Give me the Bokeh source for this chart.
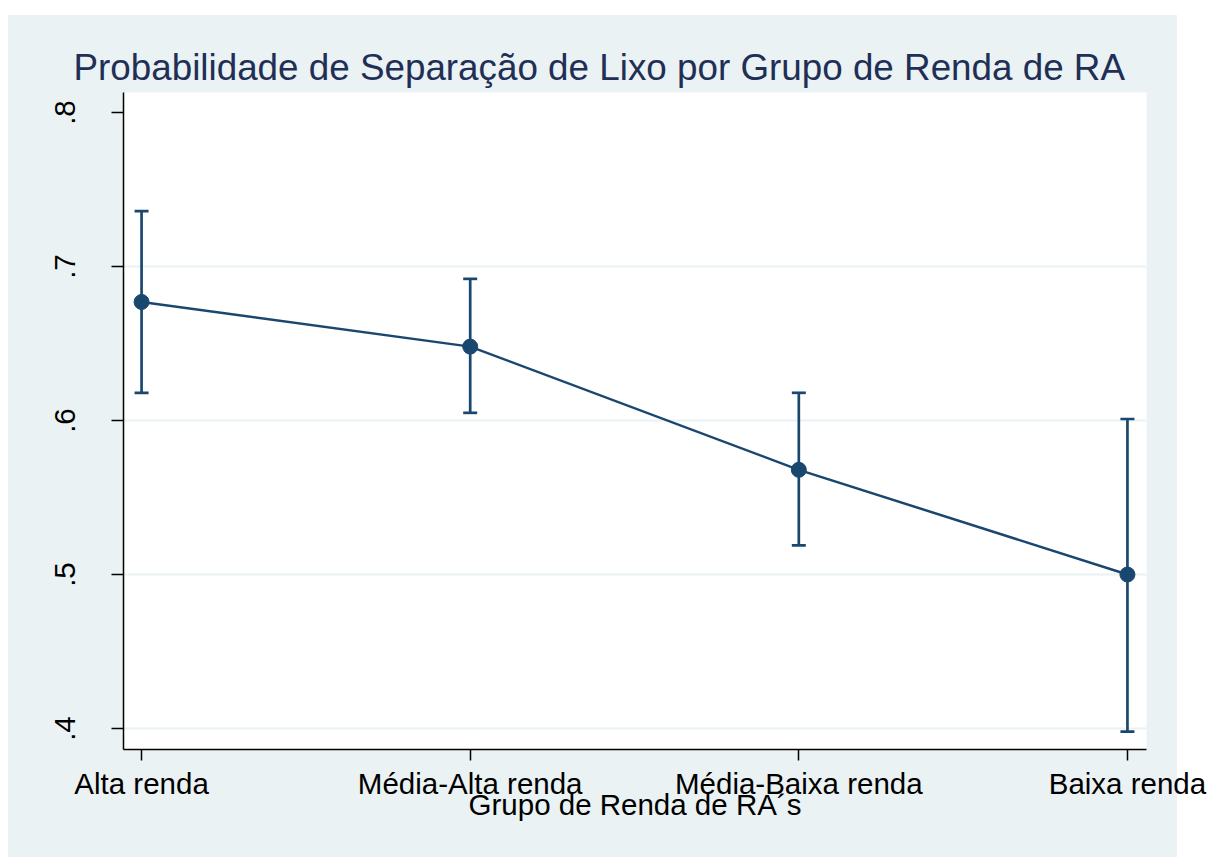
from bokeh.plotting import figure
from bokeh.models import Range1d, FixedTicker, Whisker, TeeHead, ColumnDataSource
from bokeh.embed import file_html
from bokeh.resources import INLINE

categories = ["Alta renda", "Média-Alta renda", "Média-Baixa renda", "Baixa renda"]
positions = [1, 2, 3, 4]
prob = [0.677, 0.648, 0.568, 0.500]
ci_low = [0.618, 0.605, 0.519, 0.398]
ci_high = [0.736, 0.692, 0.618, 0.601]
y_ticks = [0.4, 0.5, 0.6, 0.7, 0.8]
y_tick_labels = [".4", ".5", ".6", ".7", ".8"]
title_text = "Probabilidade de Separação de Lixo por Grupo de Renda de RA"
x_title = "Grupo de Renda de RA´s"

NAVY = "#1A476F"
BG = "#EAF2F3"
FONT = "Liberation Sans"

W, H = 1213, 857
ML, MR, MT, MB = 123, 67, 92, 108
X0, X1 = 0.945, 4.058
Y0, Y1 = 0.3864, 0.813

p = figure(width=W, height=H, output_backend="svg", toolbar_location=None,
           x_range=Range1d(X0, X1), y_range=Range1d(Y0, Y1),
           min_border_left=ML, min_border_right=MR, min_border_top=MT, min_border_bottom=MB)
p.border_fill_alpha = 0
p.background_fill_color = "white"
p.outline_line_color = None
p.styles = {
    "background-color": "white",
    "background-image": f"linear-gradient({BG}, {BG})",
    "background-size": "1169px 842px",
    "background-position": "8px 15px",
    "background-repeat": "no-repeat",
}

src = ColumnDataSource(dict(x=positions, y=prob, lo=ci_low, hi=ci_high))

LW = 2.7
p.add_layout(Whisker(base="x", lower="lo", upper="hi", source=src,
                     line_color=NAVY, line_width=LW,
                     upper_head=TeeHead(size=14, line_color=NAVY, line_width=LW),
                     lower_head=TeeHead(size=14, line_color=NAVY, line_width=LW)))
p.line("x", "y", source=src, line_color=NAVY, line_width=2.5)
p.scatter("x", "y", source=src, size=15, fill_color=NAVY, line_color=NAVY)

# axes
p.xaxis.ticker = FixedTicker(ticks=positions)
p.xaxis.major_label_overrides = {pos: c for pos, c in zip(positions, categories)}
p.yaxis.ticker = FixedTicker(ticks=y_ticks)
p.yaxis.major_label_overrides = {t: l for t, l in zip(y_ticks, y_tick_labels)}
p.yaxis.major_label_orientation = "vertical"

for ax in (p.xaxis[0], p.yaxis[0]):
    ax.axis_line_color = "black"
    ax.axis_line_width = 1.5
    ax.major_tick_line_color = "black"
    ax.major_tick_line_width = 1.5
    ax.major_tick_in = 0
    ax.minor_tick_line_color = None
    ax.major_label_text_font = FONT
    ax.major_label_text_font_size = "29.5px"
    ax.major_label_text_color = "black"

p.xaxis.major_tick_out = 11
p.yaxis.major_tick_out = 12
p.xaxis.major_label_standoff = 6
p.yaxis.major_label_standoff = 36
p.xaxis.axis_label = x_title
p.xaxis.axis_label_text_font = FONT
p.xaxis.axis_label_text_font_size = "29.5px"
p.xaxis.axis_label_text_font_style = "normal"
p.xaxis.axis_label_text_color = "black"
p.xaxis.axis_label_standoff = -15

p.xgrid.visible = False
p.ygrid.ticker = FixedTicker(ticks=y_ticks[:-1])
p.ygrid.grid_line_color = BG
p.ygrid.grid_line_width = 2

p.title.text = title_text
p.title.text_font = FONT
p.title.text_font_size = "36.8px"
p.title.text_font_style = "normal"
p.title.text_color = "#1F2F56"
p.title.align = "left"
p.title.offset = -50
p.title.standoff = 10
p.title.vertical_align = "bottom"
p.title.text_baseline = "alphabetic"

open("out.html", "w").write(file_html(p, INLINE))
